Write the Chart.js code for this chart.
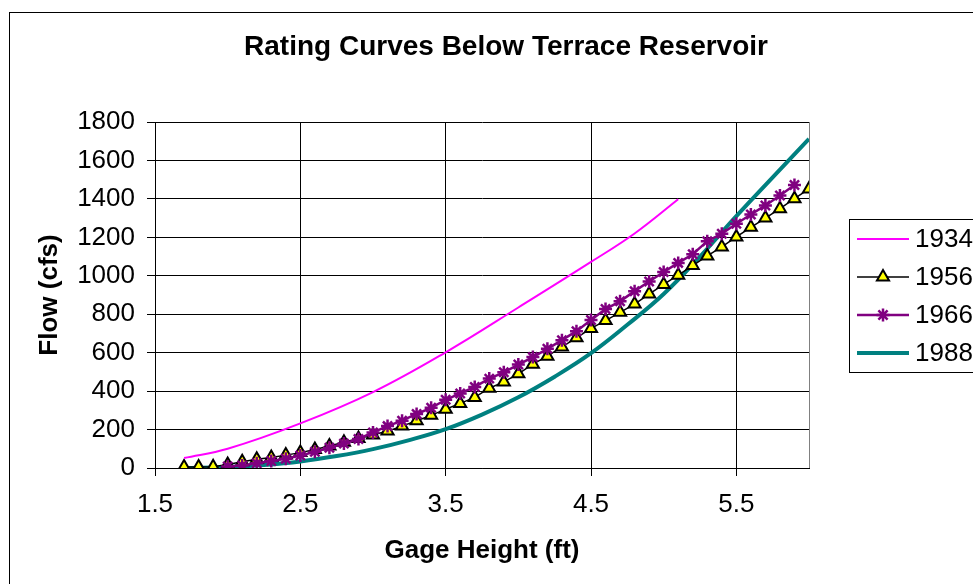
<!DOCTYPE html>
<html>
<head>
<meta charset="utf-8">
<title>Rating Curves Below Terrace Reservoir</title>
<script src="https://cdn.jsdelivr.net/npm/chart.js@4/dist/chart.umd.min.js"></script>
<style>
    html, body { margin: 0; padding: 0; background: #fff; overflow: hidden; }
    #wrap { position: relative; width: 973px; height: 584px; }
</style>
</head>
<body>
<div id="wrap"><canvas id="ratingChart"></canvas></div>
<script>
// Gage height (ft) vs flow (cfs) for each survey year
const years = ['1934', '1956', '1966', '1988'];

const gage1934 = [1.7, 2.0, 2.5, 3.0, 3.5, 4.0, 4.5, 4.8, 5.1];
const flow1934 = [52, 100, 232, 395, 602, 835, 1072, 1220, 1398];

const gage1956 = [1.7, 1.8, 1.9, 2.0, 2.1, 2.2, 2.3, 2.4, 2.5, 2.6, 2.7, 2.8, 2.9,
    3.0, 3.1, 3.2, 3.3, 3.4, 3.5, 3.6, 3.7, 3.8, 3.9, 4.0, 4.1, 4.2, 4.3, 4.4,
    4.5, 4.6, 4.7, 4.8, 4.9, 5.0, 5.1, 5.2, 5.3, 5.4, 5.5, 5.6, 5.7, 5.8, 5.9, 6.0];
const flow1956 = [5, 5, 6, 18, 33, 46, 55, 67, 80, 96, 114, 134, 154,
    172, 192, 218, 246, 274, 306, 336, 367, 415, 448, 490, 540, 582, 630, 677,
    726, 767, 810, 853, 905, 955, 1003, 1053, 1103, 1150, 1202, 1252, 1300, 1349, 1401, 1452];

const gage1966 = [2.0, 2.1, 2.2, 2.3, 2.4, 2.5, 2.6, 2.7, 2.8, 2.9,
    3.0, 3.1, 3.2, 3.3, 3.4, 3.5, 3.6, 3.7, 3.8, 3.9,
    4.0, 4.1, 4.2, 4.3, 4.4, 4.5, 4.6, 4.7, 4.8, 4.9,
    5.0, 5.1, 5.2, 5.3, 5.4, 5.5, 5.6, 5.7, 5.8, 5.9];
const flow1966 = [8, 13, 25, 36, 48, 65, 84, 105, 127, 151,
    185, 218, 246, 281, 313, 355, 388, 422, 465, 498,
    538, 577, 620, 665, 712, 770, 827, 867, 920, 970,
    1020, 1067, 1112, 1180, 1219, 1271, 1319, 1366, 1418, 1472];

const gage1988 = [1.7, 2.0, 2.25, 2.5, 2.75, 3.0, 3.25, 3.5, 3.75, 4.0, 4.25,
    4.5, 4.75, 5.0, 5.25, 5.5, 5.75, 6.0];
const flow1988 = [0, 5, 16, 34, 62, 98, 145, 202, 278, 368, 475,
    597, 745, 905, 1100, 1310, 1512, 1712];

const xTicks = [1.5, 2.5, 3.5, 4.5, 5.5];

const FONT = "'Liberation Sans', Arial, sans-serif";
Chart.defaults.font.family = FONT;
Chart.defaults.color = '#000';

const toPoints = (xs, ys) => xs.map((x, i) => ({ x: x, y: ys[i] }));

// Title, outer frame, right edge of plot and boxed legend
const framePlugin = {
    id: 'frame',
    afterDraw(chart) {
        const ctx = chart.ctx;
        const area = chart.chartArea;
        ctx.save();

        ctx.strokeStyle = '#000';
        ctx.lineWidth = 1;
        ctx.strokeRect(9.5, 12.5, 1000, 1000);

        ctx.strokeStyle = '#808080';
        ctx.beginPath();
        ctx.moveTo(Math.round(area.right) + 0.5, area.top);
        ctx.lineTo(Math.round(area.right) + 0.5, area.bottom);
        ctx.stroke();

        ctx.fillStyle = '#000';
        ctx.font = 'bold 28px ' + FONT;
        ctx.textAlign = 'center';
        ctx.textBaseline = 'middle';
        ctx.fillText('Rating Curves Below Terrace Reservoir', 506, 47);

        // legend
        ctx.strokeStyle = '#000';
        ctx.lineWidth = 1;
        ctx.strokeRect(849.5, 219.5, 150, 153);
        ctx.font = '26px ' + FONT;
        ctx.textAlign = 'left';
        chart.data.datasets.forEach((ds, i) => {
            const y = 239 + i * 38;
            ctx.strokeStyle = ds.borderColor;
            ctx.lineWidth = ds.borderWidth;
            ctx.beginPath();
            ctx.moveTo(857, y);
            ctx.lineTo(909, y);
            ctx.stroke();
            if (ds.pointStyle) {
                ctx.fillStyle = ds.pointBackgroundColor;
                ctx.strokeStyle = ds.pointBorderColor;
                ctx.lineWidth = ds.pointBorderWidth;
                Chart.helpers.drawPoint(ctx, {
                    pointStyle: ds.pointStyle,
                    radius: ds.pointRadius,
                    borderWidth: ds.pointBorderWidth,
                    rotation: 0
                }, 883, y);
            }
            ctx.fillStyle = '#000';
            ctx.fillText(ds.label, 915, y + 1);
        });
        ctx.restore();
    }
};

new Chart(document.getElementById('ratingChart'), {
    type: 'line',
    data: {
        datasets: [{
            label: years[0],
            data: toPoints(gage1934, flow1934),
            borderColor: '#FF00FF',
            borderWidth: 2,
            pointRadius: 0,
            tension: 0.4,
            order: 0
        }, {
            label: years[1],
            data: toPoints(gage1956, flow1956),
            borderColor: '#000',
            borderWidth: 1.5,
            pointStyle: 'triangle',
            pointRadius: 7,
            pointBackgroundColor: '#FFFF00',
            pointBorderColor: '#000',
            pointBorderWidth: 2,
            order: 2
        }, {
            label: years[2],
            data: toPoints(gage1966, flow1966),
            borderColor: '#800080',
            borderWidth: 2.5,
            pointStyle: 'star',
            pointRadius: 6.5,
            pointBackgroundColor: '#800080',
            pointBorderColor: '#800080',
            pointBorderWidth: 2.5,
            order: 1
        }, {
            label: years[3],
            data: toPoints(gage1988, flow1988),
            borderColor: '#008080',
            borderWidth: 4,
            pointRadius: 0,
            tension: 0.4,
            order: 3
        }]
    },
    options: {
        responsive: true,
        maintainAspectRatio: false,
        animation: false,
        devicePixelRatio: 1,
        layout: { padding: { left: 0, right: 164, top: 122, bottom: 0 } },
        plugins: {
            legend: { display: false },
            title: { display: false },
            tooltip: { enabled: false }
        },
        scales: {
            x: {
                type: 'linear',
                position: 'bottom',
                min: 1.5,
                max: 6,
                afterBuildTicks: (scale) => { scale.ticks = xTicks.map(v => ({ value: v })); },
                afterFit: (scale) => { scale.height = 116; },
                ticks: {
                    font: { size: 26 },
                    color: '#000',
                    padding: 13,
                    maxRotation: 0,
                    callback: (v) => Number(v).toFixed(1)
                },
                grid: { color: '#000', tickLength: 8, drawTicks: true },
                border: { color: '#000', width: 1 },
                title: {
                    display: true,
                    text: 'Gage Height (ft)',
                    color: '#000',
                    font: { size: 26, weight: 'bold' },
                    padding: { top: 0, bottom: 18 }
                }
            },
            y: {
                min: 0,
                max: 1800,
                afterFit: (scale) => { scale.width = 155; },
                ticks: {
                    stepSize: 200,
                    font: { size: 26 },
                    color: '#000',
                    padding: 12,
                    callback: (v) => String(v)
                },
                grid: { color: '#000', tickLength: 8, drawTicks: true },
                border: { color: '#000', width: 1 },
                title: {
                    display: true,
                    text: 'Flow (cfs)',
                    color: '#000',
                    font: { size: 26, weight: 'bold' },
                    padding: { top: 34, bottom: 0 }
                }
            }
        }
    },
    plugins: [framePlugin]
});
</script>
</body>
</html>
